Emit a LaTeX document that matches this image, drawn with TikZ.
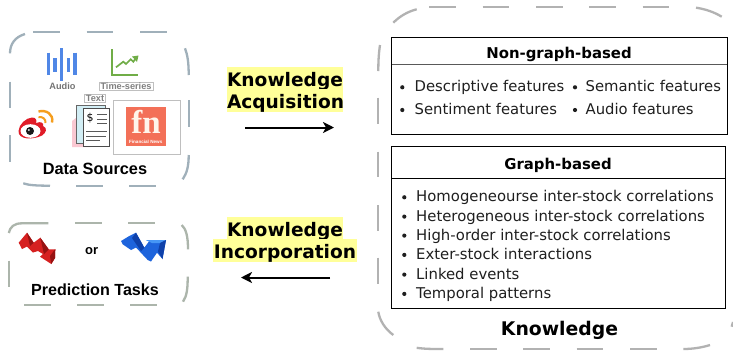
\documentclass[tikz,border=0pt]{standalone}
\usepackage{fontspec}
\setmainfont{DejaVu Sans}
\newfontfamily\helv{Liberation Sans}
\newfontfamily\timesf{Liberation Serif}
\usetikzlibrary{arrows.meta}
\definecolor{ybg}{HTML}{FFFF99}
\definecolor{fa}{RGB}{160,176,186}
\definecolor{fb}{RGB}{172,181,171}
\definecolor{fc}{RGB}{178,178,178}
\definecolor{audioc}{RGB}{80,135,230}
\definecolor{greenc}{RGB}{112,173,71}
\definecolor{pinkc}{RGB}{250,200,210}
\definecolor{cyanc}{RGB}{210,238,245}
\definecolor{fnc}{RGB}{243,112,88}
\definecolor{wbred}{RGB}{224,28,40}
\definecolor{wbor}{RGB}{245,158,30}
\definecolor{redm}{RGB}{214,32,32}
\definecolor{redd}{RGB}{150,18,18}
\definecolor{blm}{RGB}{30,100,220}
\definecolor{bll}{RGB}{70,150,245}
\definecolor{bld}{RGB}{15,65,170}
\tikzset{
 x=1pt,y=-1pt,
 fseg/.style={line width=2.3pt},
 item/.style={font=\fontsize{14.8}{18}\selectfont,anchor=base west,inner sep=0pt,text=black!88},
 gitem/.style={font=\fontsize{14.85}{18}\selectfont,anchor=base west,inner sep=0pt,text=black!88},
 headt/.style={font=\fontsize{14.9}{18}\selectfont\bfseries,inner sep=0pt,anchor=base},
 blabel/.style={font=\fontsize{18.6}{22}\selectfont\bfseries,inner sep=0pt,fill=ybg,anchor=base,text height=19pt,text depth=3.5pt,text width=#1,align=center},
 tinyt/.style={font=\helv\fontsize{9.2}{10}\selectfont\bfseries,text=black!50,inner sep=1.5pt},
 flowarrow/.style={line width=2pt,-{Stealth[length=11pt,width=11pt,inset=3pt]}},
}
\begin{document}
\begin{tikzpicture}
\useasboundingbox (0,0) rectangle (733,354);
\fill[white] (0,0) rectangle (733,354);
% Data Sources frame
\begin{scope}[fseg,draw=fa]
\draw (10,53.3) .. controls (10,44) and (15,37) .. (25,34);
\foreach \a/\b in {33.3/60,86.7/113.3,140/166.7} \draw (\a,32.3) -- (\b,32.3);
\foreach \a/\b in {81.7/108.3,135/161.7} \draw (10,\a) -- (10,\b);
\draw (23.3,183.3) .. controls (28,185) and (35,185.7) .. (50,185.7);
\foreach \a/\b in {76/102.7,129.3/156} \draw (\a,185.7) -- (\b,185.7);
\draw (182.7,179.3) .. controls (187,173) and (188.7,166) .. (188.7,155);
\draw (188.7,100) -- (188.7,126.7);
\draw (185,48.3) .. controls (187.5,55) and (188.7,62) .. (188.7,75);
\end{scope}
% Prediction Tasks frame
\begin{scope}[fseg,draw=fb]
\draw (8.8,233) .. controls (10,227) and (14,223.3) .. (22,223.3) -- (48.3,223.3);
\foreach \a/\b in {75/101.7,128.3/155} \draw (\a,223.3) -- (\b,223.3);
\draw (181.7,225) .. controls (186,229) and (188,236) .. (188,249.3);
\draw (187.7,276.7) .. controls (187.7,288) and (187,296) .. (183,301.7);
\foreach \a/\b in {24/50.7,77.3/104,130/156.7} \draw (\a,305) -- (\b,305);
\draw (9.3,260.7) -- (9.3,287.3);
\end{scope}
% Knowledge frame
\begin{scope}[fseg,draw=fc]
\draw (393.3,22.7) .. controls (400,16) and (408,11.5) .. (416.7,9.3);
\foreach \a/\b in {429.3/456,482.7/509.3,536/562.7,589.3/616,642.7/669.3} \draw (\a,7.3) -- (\b,7.3);
\draw (696,7.7) .. controls (705,9) and (714,12) .. (721.7,16.7);
\draw (380,45) .. controls (378.8,53) and (378.3,61) .. (378.3,71);
\foreach \a/\b in {97.7/124.3,151.7/177.3,205/230.7,257.7/284} \draw (378.3,\a) -- (378.3,\b);
\draw (378.3,311.7) .. controls (379.5,320) and (385,329) .. (393.3,335);
\draw (416.7,347.8) .. controls (425,349) and (432,349) .. (443.3,349);
\foreach \a/\b in {470/496.7,523.3/550,576.7/603.3,630/656.7} \draw (\a,349) -- (\b,349);
\draw (683.3,349) .. controls (693,349) and (702,347.5) .. (710,345);
\draw (731.7,326.7) -- (733,322);
\end{scope}
% panels
\draw[line width=.8pt] (391.5,37.5) rectangle (727,134.5);
\draw[line width=.8pt,black!65] (391.5,64.5) -- (727,64.5);
\node[headt] (h1) at (559,58.3) {Non-graph-based};
\node[item] (i1) at (414.5,91.7) {Descriptive features};
\node[item] (i2) at (414.5,114.3) {Sentiment features};
\node[item] (i3) at (585.5,91.7) {Semantic features};
\node[item] (i4) at (585.5,114.3) {Audio features};
\foreach \x/\y in {402.3/87.3,402.3/110,575/87.3,575/110} \fill[black!88] (\x,\y) circle[radius=2.1pt];
\draw[line width=.8pt] (391.5,146.7) rectangle (725.5,308.5);
\draw[line width=.8pt] (391.5,178.5) -- (725.5,178.5);
\node[headt] (h2) at (558,169.3) {Graph-based};
\foreach \y/\t in {201.7/Homogeneourse inter-stock correlations,221/Heterogeneous inter-stock correlations,240/High-order inter-stock correlations,259.3/Exter-stock interactions,279/Linked events,298.3/Temporal patterns}{
  \node[gitem] at (416,\y) {\t};
  \fill[black!88] (404.3,\y-4.4) circle[radius=2.1pt];
}
\node[font=\fontsize{18.8}{22}\selectfont\bfseries,inner sep=0pt,anchor=base] (kn) at (559.5,335) {Knowledge};
% labels
\node[blabel=116pt] (a1) at (285,86) {Knowledge};
\node[blabel=116pt] (a2) at (285,108) {Acquisition};
\node[blabel=116pt] (b1) at (285,236) {Knowledge};
\node[blabel=144pt] (b2) at (285,258) {Incorporation};
\coordinate (p1) at (245,127.5); \coordinate (p2) at (334,127.5);
\coordinate (q1) at (330,277.5); \coordinate (q2) at (241,277.5);
\draw[flowarrow] (p1) -- (p2);
\draw[flowarrow] (q1) -- (q2);
% captions
\node[font=\helv\fontsize{16.3}{18}\selectfont\bfseries,inner sep=0pt,anchor=base] (ds) at (95,174.3) {Data Sources};
\node[font=\helv\fontsize{16.1}{18}\selectfont\bfseries,inner sep=0pt,anchor=base] (pt) at (95,295) {Prediction Tasks};
\node[font=\helv\fontsize{13}{13}\selectfont\bfseries,inner sep=0pt,anchor=base] (or) at (91.7,254) {or};
% audio icon
\foreach \x/\a/\b in {48.3/52.7/75,55/58/72,61.7/48/81,68.3/58/72,75/52.7/75}
  \draw[line width=3.2pt,audioc] (\x,\a) -- (\x,\b);
\node[tinyt,text=black!55] (au) at (62.5,86.5) {Audio};
% time series icon
\draw[line width=1.9pt,greenc] (111.7,49.3) -- (111.7,75) -- (137.7,75);
\draw[line width=1.7pt,greenc] (116,67.3) -- (123.3,61.7) -- (126,64) -- (130.7,59.3) -- (133.3,61.7) -- (136,58);
\fill[greenc] (138.5,55.5) -- (132,56.5) -- (137,62) -- cycle;
\node[tinyt,draw=black!25,line width=.6pt,inner xsep=1.5pt,inner ysep=1pt] (ts) at (126,86.4) {Time-series};
% text icon
\node[tinyt,draw=black!25,line width=.6pt,inner xsep=1.5pt,inner ysep=1pt] (tx) at (95,98.5) {Text};
\fill[pinkc] (72,121) -- (76,118) -- (90,118) -- (90,147) -- (72,147) -- cycle;
\draw[line width=1pt,fill=cyanc,draw=black!60] (76.7,105) rectangle (105,143);
\draw[line width=1pt,fill=white,draw=black!70] (83.5,108.5) rectangle (109.5,146);
\node[font=\fontsize{11}{12}\selectfont,inner sep=0pt] (dollar) at (90,118) {\$};
\foreach \s/\y/\e in {97/114/107,97/119/107,97/123.4/107,86/131.7/107,86/136/106,86/140.3/100}
  \draw[line width=1pt,black!65] (\s,\y) -- (\e,\y);
% fn icon
\draw[line width=.8pt,black!25] (113.5,100.5) rectangle (180.5,154);
\fill[fnc] (125.7,106.7) rectangle (165.7,145.7);
\node[font=\timesf\fontsize{33}{33}\selectfont\bfseries,text=white!92!orange,inner sep=0pt,anchor=base,text depth=0pt] (fn) at (146,133.5) {fn};
\node[font=\helv\fontsize{4.6}{5}\selectfont\bfseries,text=white,inner sep=0pt] (fnn) at (145.7,141.5) {Financial News};
% weibo icon
\fill[wbred] (18.5,131) .. controls (19,124) and (26,118) .. (32,117.5) .. controls (36,117.5) and (37,120) .. (36,123) .. controls (41,121) and (44,123) .. (43,126) .. controls (48,128) and (46,133) .. (42,135.5) .. controls (33,140) and (18,140) .. (18.5,131) -- cycle;
\fill[white] (30.5,131) ellipse (10pt and 6.8pt);
\fill[black!90] (30,131) circle (4pt);
\fill[white] (28.8,130) circle (1pt);
\draw[line width=2pt,wbor] (38.5,117) .. controls (42.5,116.5) and (46,119) .. (45.5,123);
\draw[line width=2.4pt,wbor] (38.5,111.5) .. controls (46,109.5) and (54,114) .. (52,122.5);
% red down arrow
\fill[redm] (18.7,242.7) -- (27,232.7) -- (33.7,242.7) -- (40.3,237.7) -- (48.7,249.3) -- (55.3,249.3) -- (55,258) -- (51.3,264) -- (40,256.7) -- (43,254) -- (38,251) -- (33,252.5) -- (27,246.5) -- (22,249) -- cycle;
\fill[redd] (55.3,249) -- (55,258) -- (51.3,264) -- (50,256) -- cycle;
\fill[redd] (27,232.7) -- (33.7,242.7) -- (30,246) -- cycle;
\fill[redd] (40.3,237.7) -- (48.7,249.3) -- (44,254) -- cycle;
% blue up arrow
\fill[blm] (121,241) -- (129.3,236) -- (136,232.7) -- (144.3,247.7) -- (149.3,241) -- (146,240) -- (166,240) -- (162.5,259) -- (157,252.7) -- (151,261.5) -- (147.7,260) -- (136,247.5) -- (131,250) -- (122.7,244.3) -- cycle;
\fill[bll] (146,240) -- (166,240) -- (160,243) -- (152,243) -- cycle;
\fill[bld] (136,232.7) -- (144.3,247.7) -- (141,251) -- (132,238) -- cycle;
\fill[bld] (166,240) -- (162.5,259) -- (158,251.5) -- (160,243) -- cycle;
\end{tikzpicture}
\end{document}
